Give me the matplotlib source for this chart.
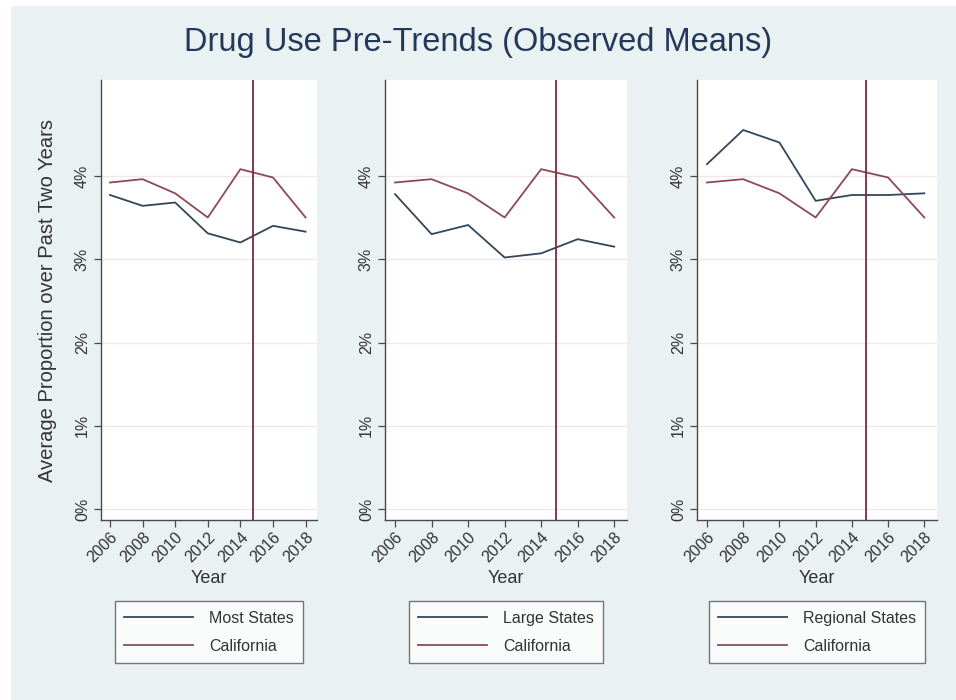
import matplotlib
matplotlib.use('Agg')
import matplotlib.pyplot as plt
from matplotlib.patches import Rectangle

plt.rcParams['font.family'] = ['Liberation Sans', 'DejaVu Sans']

# data (percent)
years = [2006, 2008, 2010, 2012, 2014, 2016, 2018]
california = [3.92, 3.96, 3.79, 3.50, 4.08, 3.98, 3.50]
most_states = [3.77, 3.64, 3.68, 3.31, 3.20, 3.40, 3.33]
large_states = [3.78, 3.30, 3.41, 3.02, 3.07, 3.24, 3.15]
regional_states = [4.14, 4.55, 4.40, 3.70, 3.77, 3.77, 3.79]
comparison_labels = ['Most States', 'Large States', 'Regional States']
y_ticks = [0, 1, 2, 3, 4]
policy_year = 2014.8

BG = '#eaf1f3'
NAVY = '#33475a'
MAROON = '#8c4a56'
VLINE = '#7a2b40'
GRID = '#f1e6e9'

fig = plt.figure(figsize=(9.56, 7), dpi=100)
fig.patch.set_facecolor('white')
# light background panel (leaves a thin white strip top/left like the screenshot)
fig.patches.append(Rectangle((11 / 956, 0), 1, 1 - 6 / 700, transform=fig.transFigure,
                             facecolor=BG, edgecolor='none', zorder=-10))

fig.text(0.5, 1 - 42 / 700, 'Drug Use Pre-Trends (Observed Means)',
         ha='center', va='center', fontsize=23.5, color='#24395a')

# axes rectangles [left, bottom, width, height] in figure fractions
bottom = 1 - 520 / 700
height = 440 / 700
panels = [
    (101 / 956, 216 / 956),
    (385 / 956, 242 / 956),
    (697 / 956, 240 / 956),
]

series = [most_states, large_states, regional_states]

for i, ((left, width), comp, lab) in enumerate(zip(panels, series, comparison_labels)):
    ax = fig.add_axes([left, bottom, width, height])
    ax.set_facecolor('white')

    for t in y_ticks:
        ax.axhline(t, color=GRID, lw=0.9, zorder=0)

    l1, = ax.plot(years, comp, color=NAVY, lw=1.3, label=lab)
    l2, = ax.plot(years, california, color=MAROON, lw=1.3, label='California')
    ax.axvline(policy_year, color=VLINE, lw=1.3)

    ax.set_xlim(2005.45, 2018.7)
    ax.set_ylim(-0.13, 5.15)

    ax.spines['top'].set_visible(False)
    ax.spines['right'].set_visible(False)
    for s in ('left', 'bottom'):
        ax.spines[s].set_color('#4a4a4a')
        ax.spines[s].set_linewidth(1.0)

    ax.set_xticks(years)
    ax.set_xticklabels([str(y) for y in years], rotation=45, ha='right', va='top',
                       rotation_mode='anchor', fontsize=11.5, color='#333333')
    ax.set_yticks(y_ticks)
    ax.set_yticklabels([f'{t}%' for t in y_ticks], rotation=90, va='center',
                       fontsize=11.5, color='#333333')
    ax.tick_params(axis='both', direction='out', length=5, width=0.9, color='#4a4a4a')
    ax.tick_params(axis='y', pad=3)
    ax.tick_params(axis='x', pad=2)

    ax.set_xlabel('Year', fontsize=13, color='#333333', labelpad=3)
    if i == 0:
        ax.set_ylabel('Average Proportion over Past Two Years', fontsize=14.5,
                      color='#333333', labelpad=13)

    leg = ax.legend(handles=[l1, l2], loc='upper center', bbox_to_anchor=(0.5, -0.185),
                    ncol=1, frameon=True, fancybox=False, fontsize=11.5,
                    handlelength=4.3, handletextpad=1.0, borderpad=0.6,
                    labelspacing=0.8, borderaxespad=0)
    leg.get_frame().set_edgecolor('#555555')
    leg.get_frame().set_linewidth(1.0)
    for txt in leg.get_texts():
        txt.set_color('#333333')

fig.savefig('out.png', dpi=100, facecolor=fig.get_facecolor())
